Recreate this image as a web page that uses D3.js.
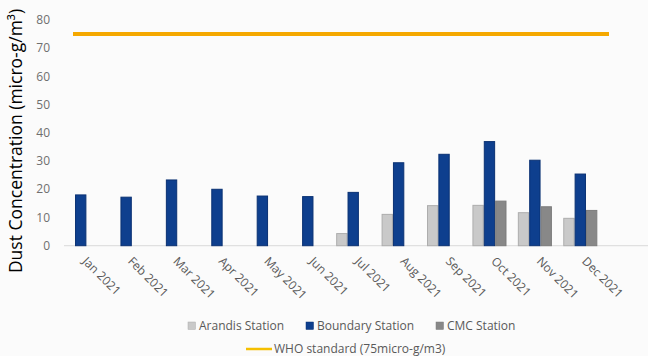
<!DOCTYPE html>
<html>
<head>
<meta charset="utf-8">
<script src="https://cdn.jsdelivr.net/npm/d3@7"></script>
<style>
  html, body { margin: 0; padding: 0; background: #fbfbfb; }
  svg { display: block; font-family: "Open Sans", sans-serif; }
</style>
</head>
<body>
<svg id="chart" width="648" height="356"></svg>
<script>
// Monthly dust concentration by monitoring station, 2021
const months = ["Jan 2021", "Feb 2021", "Mar 2021", "Apr 2021", "May 2021", "Jun 2021",
                "Jul 2021", "Aug 2021", "Sep 2021", "Oct 2021", "Nov 2021", "Dec 2021"];
const seriesNames = ["Arandis Station", "Boundary Station", "CMC Station"];
const arandis  = [null, null, null, null, null, null, 4.3, 11.1, 14.2, 14.3, 11.7, 9.7];
const boundary = [18.0, 17.2, 23.3, 20.0, 17.6, 17.4, 18.9, 29.4, 32.4, 36.9, 30.3, 25.4];
const cmc      = [null, null, null, null, null, null, null, null, null, 15.8, 13.8, 12.5];
const whoStandard = 75;
const whoLabel = "WHO standard (75micro-g/m3)";
const yTicks = [0, 10, 20, 30, 40, 50, 60, 70, 80];
const yTitle = "Dust Concentration (micro-g/m³)";

const colors = { "Arandis Station": "#c9c9c9", "Boundary Station": "#0e3f8e", "CMC Station": "#888888" };
const strokes = { "Arandis Station": "#adadad", "Boundary Station": "#0a3173", "CMC Station": "#7c7c7c" };

const svg = d3.select("#chart");

const x = d3.scaleBand().domain(months).range([58, 603]).paddingInner(0).paddingOuter(0);
const gap = x.step() * 0.25;
const xs = d3.scaleBand().domain(seriesNames).range([gap / 2, x.step() - gap / 2]);
const y = d3.scaleLinear().domain([0, 80]).range([245.7, 20]);

// y tick labels
svg.append("g")
  .selectAll("text")
  .data(yTicks)
  .join("text")
  .attr("x", 50)
  .attr("y", d => y(d))
  .attr("dy", "0.35em")
  .attr("text-anchor", "end")
  .attr("font-size", 12)
  .attr("fill", "#6f6f6f")
  .text(d => d);

// category baseline
svg.append("line")
  .attr("x1", 64).attr("x2", 648)
  .attr("y1", y(0)).attr("y2", y(0))
  .attr("stroke", "#d9d9d9").attr("stroke-width", 1);

// bars
const rows = months.map((m, i) => ({
  month: m,
  values: [
    { key: "Arandis Station", v: arandis[i] },
    { key: "Boundary Station", v: boundary[i] },
    { key: "CMC Station", v: cmc[i] }
  ].filter(d => d.v != null)
}));

svg.append("g")
  .selectAll("g")
  .data(rows)
  .join("g")
  .attr("transform", d => `translate(${x(d.month)},0)`)
  .selectAll("rect")
  .data(d => d.values)
  .join("rect")
  .attr("x", d => xs(d.key) + 0.5)
  .attr("width", xs.bandwidth() - 1)
  .attr("y", d => y(d.v))
  .attr("height", d => y(0) - y(d.v))
  .attr("fill", d => colors[d.key])
  .attr("stroke", d => strokes[d.key])
  .attr("stroke-width", 1);

// WHO standard line
svg.append("line")
  .attr("x1", x(months[0]) + 15)
  .attr("x2", x(months[months.length - 1]) + x.bandwidth() + 6)
  .attr("y1", y(whoStandard)).attr("y2", y(whoStandard))
  .attr("stroke", "#f5a800").attr("stroke-width", 4);

// x labels, rotated
svg.append("g")
  .selectAll("text")
  .data(months)
  .join("text")
  .attr("transform", d => `translate(${x(d) + x.bandwidth() / 2 + 4},259) rotate(45)`)
  .attr("dy", "0.35em")
  .attr("text-anchor", "start")
  .attr("font-size", 12)
  .attr("fill", "#595959")
  .text(d => d);

// y axis title
svg.append("text")
  .attr("transform", "translate(22,141) rotate(-90)")
  .attr("text-anchor", "middle")
  .attr("font-size", 17.5)
  .attr("fill", "#000")
  .text(yTitle);

// legend, first row: station swatches
const legendX = [188, 306, 436];
const leg = svg.append("g")
  .selectAll("g")
  .data(seriesNames)
  .join("g")
  .attr("transform", (d, i) => `translate(${legendX[i]},322)`);
leg.append("rect")
  .attr("width", 7.5).attr("height", 7.5)
  .attr("fill", d => colors[d])
  .attr("stroke", d => strokes[d]).attr("stroke-width", 0.5);
leg.append("text")
  .attr("x", 11).attr("y", 7.5)
  .attr("font-size", 12)
  .attr("fill", "#595959")
  .text(d => d);

// legend, second row: WHO line
svg.append("line")
  .attr("x1", 246).attr("x2", 272)
  .attr("y1", 349).attr("y2", 349)
  .attr("stroke", "#f5bf00").attr("stroke-width", 2.5);
svg.append("text")
  .attr("x", 274).attr("y", 353)
  .attr("font-size", 12)
  .attr("fill", "#595959")
  .text(whoLabel);
</script>
</body>
</html>
